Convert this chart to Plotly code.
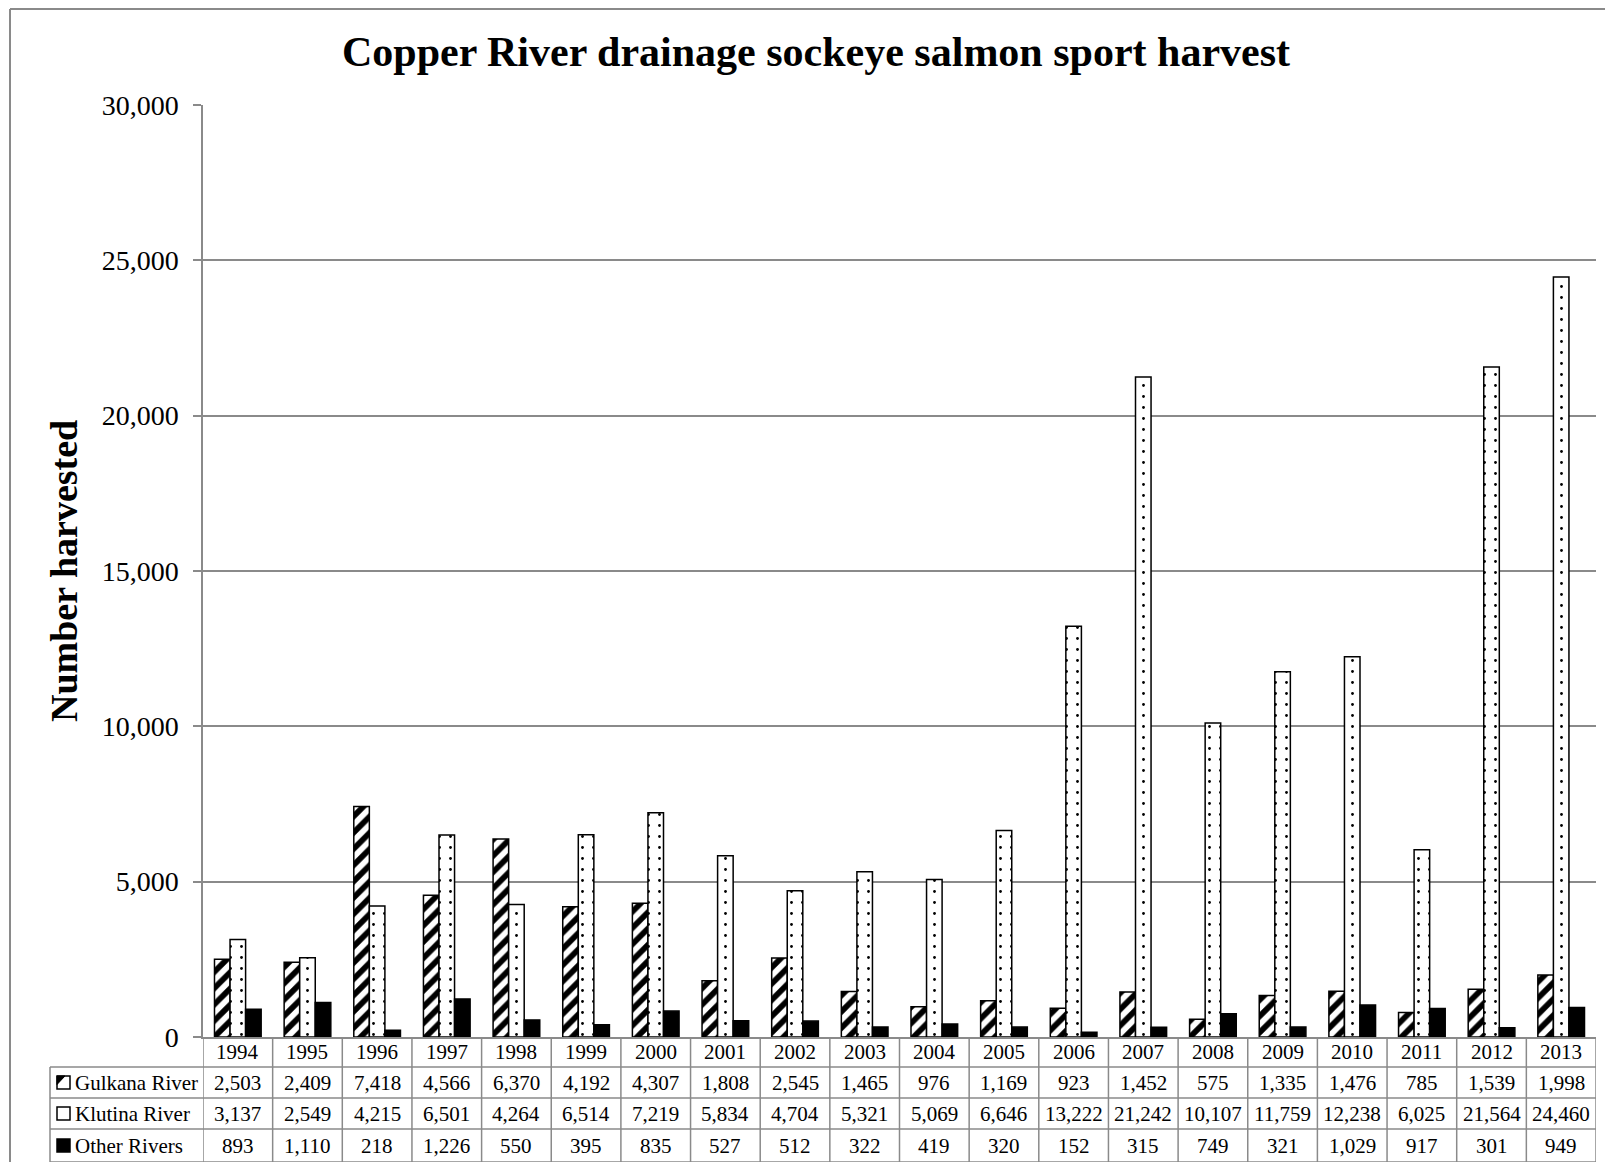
import plotly.graph_objects as go

years = ["1994", "1995", "1996", "1997", "1998", "1999", "2000", "2001", "2002", "2003",
         "2004", "2005", "2006", "2007", "2008", "2009", "2010", "2011", "2012", "2013"]
gulkana = [2503, 2409, 7418, 4566, 6370, 4192, 4307, 1808, 2545, 1465,
           976, 1169, 923, 1452, 575, 1335, 1476, 785, 1539, 1998]
klutina = [3137, 2549, 4215, 6501, 4264, 6514, 7219, 5834, 4704, 5321,
           5069, 6646, 13222, 21242, 10107, 11759, 12238, 6025, 21564, 24460]
other = [893, 1110, 218, 1226, 550, 395, 835, 527, 512, 322,
         419, 320, 152, 315, 749, 321, 1029, 917, 301, 949]

series_names = ["Gulkana River", "Klutina River", "Other Rivers"]
series_values = [gulkana, klutina, other]

# the page body has an 8px margin, so the figure is drawn 8px in from the corner
OFF = 8
W, H = 1613 - 2 * OFF, 1170 - 2 * OFF
L, T = 203 - OFF, 105 - OFF
R = W - (1596 - OFF)
B = H - (1037 - OFF)
PW, PH = W - L - R, H - T - B
FONT = "Liberation Serif, Times New Roman, serif"
GRID = "#8a8a8a"


def px(x):
    # screen pixel -> paper x
    return (x - OFF - L) / PW


def py(y):
    # screen pixel -> paper y
    return (H - B - (y - OFF)) / PH


xs = list(range(len(years)))

fig = go.Figure()
fig.add_trace(go.Bar(
    x=xs, y=gulkana, name=series_names[0],
    marker=dict(color="white", line=dict(color="black", width=1.5),
                pattern=dict(shape="/", fgcolor="black", bgcolor="white", fgopacity=1,
                             size=11.5, solidity=0.5)),
))
fig.add_trace(go.Bar(
    x=xs, y=klutina, name=series_names[1],
    marker=dict(color="white", line=dict(color="black", width=1.5),
                pattern=dict(shape=".", fgcolor="black", bgcolor="white", fgopacity=1,
                             size=11, solidity=0.05)),
))
fig.add_trace(go.Bar(
    x=xs, y=other, name=series_names[2],
    marker=dict(color="black", line=dict(color="black", width=1.5)),
))

shapes = []
annotations = []

# table rows (screen pixel row edges)
row_edges = [1037, 1067, 1098, 1129, 1162]
row_mid = [(row_edges[i] + row_edges[i + 1]) / 2 for i in range(4)]
line = dict(color=GRID, width=1.5)

for i in range(len(years) + 1):
    shapes.append(dict(type="line", xref="x", yref="paper", x0=i - 0.5, x1=i - 0.5,
                       y0=py(row_edges[0]), y1=py(row_edges[-1]), line=line))
for ye in row_edges[1:]:
    shapes.append(dict(type="line", xref="paper", yref="paper", x0=px(50), x1=1,
                       y0=py(ye), y1=py(ye), line=line))
shapes.append(dict(type="line", xref="paper", yref="paper", x0=px(50), x1=px(50),
                   y0=py(row_edges[1]), y1=py(row_edges[-1]), line=line))

# outer chart border (left and top only visible)
shapes.append(dict(type="line", xref="paper", yref="paper", x0=px(10), x1=px(10),
                   y0=py(9), y1=py(1200), line=dict(color=GRID, width=2)))
shapes.append(dict(type="line", xref="paper", yref="paper", x0=px(10), x1=px(1640),
                   y0=py(9), y1=py(9), line=dict(color=GRID, width=2)))

cell_font = dict(family=FONT, size=21, color="black")
for i, yr in enumerate(years):
    annotations.append(dict(x=i, y=py(row_mid[0]), xref="x", yref="paper", text=yr,
                            xanchor="center", yanchor="middle", showarrow=False, font=cell_font))
    for r, vals in enumerate(series_values):
        annotations.append(dict(x=i, y=py(row_mid[r + 1]), xref="x", yref="paper",
                                text=f"{vals[i]:,}", xanchor="center", yanchor="middle",
                                showarrow=False, font=cell_font))

# legend keys and names in table
for r, name in enumerate(series_names):
    yc = row_mid[r + 1]
    x0, x1, y0, y1 = px(57), px(70), py(yc + 6.5), py(yc - 6.5)
    fill = "black" if r == 2 else "white"
    shapes.append(dict(type="rect", xref="paper", yref="paper", x0=x0, x1=x1, y0=y0, y1=y1,
                       fillcolor=fill, line=dict(color="black", width=1.5)))
    if r == 0:
        shapes.append(dict(type="path", xref="paper", yref="paper",
                           path=f"M {x0},{y1} L {px(65)},{y1} L {x0},{py(yc + 2)} Z",
                           fillcolor="black", line=dict(color="black", width=1)))
    annotations.append(dict(x=px(73), y=py(yc), xref="paper", yref="paper", text=name,
                            xanchor="left", yanchor="middle", showarrow=False, font=cell_font))

annotations.append(dict(x=px(64), y=0.5, xref="paper", yref="paper", text="<b>Number harvested</b>",
                        textangle=-90, xanchor="center", yanchor="middle", showarrow=False,
                        font=dict(family=FONT, size=38, color="black")))

fig.update_layout(
    width=W, height=H,
    margin=dict(l=L, r=R, t=T, b=B),
    paper_bgcolor="white", plot_bgcolor="white",
    barmode="group", bargap=0.33, bargroupgap=0,
    showlegend=False,
    title=dict(text="<b>Copper River drainage sockeye salmon sport harvest</b>",
               x=(816 - OFF) / W, xanchor="center", y=1 - (51 - OFF) / H, yanchor="middle",
               font=dict(family=FONT, size=42, color="black")),
    xaxis=dict(range=[-0.5, len(years) - 0.5], showticklabels=False, showgrid=False,
               showline=True, linecolor=GRID, linewidth=1.5, zeroline=False, ticks=""),
    yaxis=dict(range=[0, 30000], dtick=5000, tickformat=",", showgrid=True, gridcolor=GRID,
               gridwidth=1.5, showline=True, linecolor=GRID, linewidth=1.5, zeroline=False,
               ticks="outside", ticklen=8, tickcolor=GRID, tickwidth=1.5, ticklabelstandoff=9,
               tickfont=dict(family=FONT, size=28, color="black")),
    shapes=shapes, annotations=annotations,
)

fig.write_html("out.html")
